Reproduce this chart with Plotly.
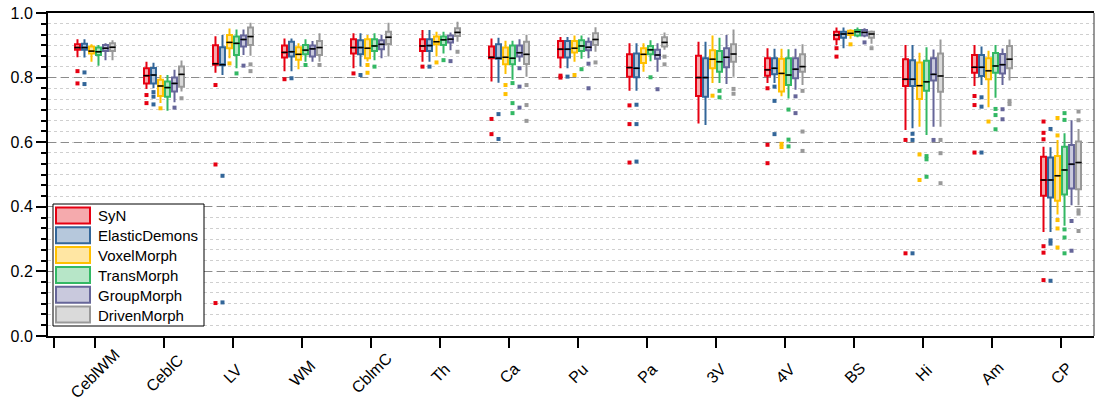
import plotly.graph_objects as go

CATEGORIES = ["CeblWM", "CeblC", "LV", "WM", "CblmC", "Th", "Ca", "Pu", "Pa",
              "3V", "4V", "BS", "Hi", "Am", "CP"]
METHODS = ["SyN", "ElasticDemons", "VoxelMorph", "TransMorph", "GroupMorph", "DrivenMorph"]
Y_TICKS = [0.0, 0.2, 0.4, 0.6, 0.8, 1.0]
Y_TICK_TEXT = ["0.0", "0.2", "0.4", "0.6", "0.8", "1.0"]

# ---- SyN ----
SYN_LOW = [.863, .765, .815, .820, .829, .849, .788, .829, .759, .658, .783, .901, .638, .774, .322]
SYN_Q1 = [.886, .782, .840, .862, .875, .882, .860, .862, .803, .743, .806, .919, .774, .815, .434]
SYN_MED = [.893, .806, .843, .878, .893, .898, .863, .888, .831, .800, .824, .932, .795, .832, .483]
SYN_Q3 = [.903, .829, .900, .899, .919, .919, .896, .913, .872, .868, .860, .942, .857, .870, .555]
SYN_HIGH = [.919, .849, .928, .921, .937, .947, .921, .926, .906, .911, .891, .955, .901, .901, .586]
SYN_OUT = [[.820, .782], [.746, .721], [.777, .531, .102], [.795], [.813], [.834],
           [.672, .625], [.806, .800], [.714, .656, .537], [], [.767, .592, .535],
           [.891, .865], [.607, .256], [.743, .715, .568], [.664, .629, .609, .278, .258, .173]]

# ---- ElasticDemons ----
ED_LOW = [.862, .767, .808, .820, .834, .849, .784, .829, .759, .653, .783, .891, .643, .777, .322]
ED_Q1 = [.886, .782, .838, .865, .872, .882, .858, .862, .801, .741, .810, .923, .774, .805, .429]
ED_MED = [.893, .808, .840, .880, .893, .899, .860, .888, .829, .800, .829, .935, .795, .832, .483]
ED_Q3 = [.905, .830, .894, .911, .916, .919, .903, .913, .875, .860, .860, .942, .854, .870, .553]
ED_HIGH = [.919, .846, .932, .921, .937, .947, .923, .926, .906, .911, .889, .955, .901, .896, .584]
ED_OUT = [[.816, .780], [.755, .741, .717], [.496, .104], [.798], [.808], [.834],
          [.687, .610], [.803], [.716, .656, .540], [], [.772, .728, .625],
          [], [.626, .607, .256], [.739, .710, .568], [.641, .296, .286, .171]]

# ---- VoxelMorph ----
VM_LOW = [.849, .721, .860, .826, .850, .865, .811, .849, .818, .783, .742, .920, .648, .708, .376]
VM_Q1 = [.875, .743, .891, .855, .860, .903, .841, .878, .845, .829, .757, .932, .734, .795, .419]
VM_MED = [.882, .774, .909, .872, .891, .911, .863, .891, .872, .857, .813, .937, .775, .821, .496]
VM_Q3 = [.896, .793, .932, .894, .919, .927, .893, .913, .891, .885, .858, .945, .847, .860, .557]
VM_HIGH = [.903, .808, .952, .906, .932, .942, .914, .930, .906, .930, .889, .950, .877, .883, .607]
VM_OUT = [[], [.705], [.844], [], [.839, .815], [.847], [.777, .749], [.808], [],
          [.744], [.595, .585], [.903], [.562, .483], [.664], [.675, .621, .359, .333, .274]]

# ---- TransMorph ----
TM_LOW = [.837, .697, .829, .849, .854, .875, .793, .858, .851, .783, .735, .925, .622, .738, .341]
TM_Q1 = [.870, .741, .870, .872, .882, .901, .841, .882, .872, .818, .777, .930, .759, .815, .438]
TM_MED = [.880, .769, .906, .885, .898, .917, .860, .898, .886, .849, .808, .942, .787, .836, .514]
TM_Q3 = [.893, .788, .927, .901, .919, .927, .899, .916, .898, .882, .860, .947, .852, .876, .586]
TM_HIGH = [.901, .808, .949, .919, .937, .942, .914, .930, .916, .923, .888, .955, .894, .901, .628]
TM_OUT = [[], [], [.813], [.839], [.834], [.854], [.783, .721, .690], [.826], [.801],
          [.759, .739], [.701, .608, .587], [], [.557, .547, .493], [.703, .684, .640],
          [.690, .669, .330, .305, .256]]

# ---- GroupMorph ----
GM_LOW = [.854, .724, .870, .849, .860, .885, .849, .860, .818, .780, .762, .925, .648, .777, .405]
GM_Q1 = [.882, .757, .896, .865, .888, .909, .865, .885, .858, .832, .798, .930, .791, .813, .457]
GM_MED = [.891, .782, .918, .889, .903, .919, .877, .894, .870, .863, .826, .940, .810, .840, .532]
GM_Q3 = [.901, .800, .930, .899, .916, .930, .899, .911, .886, .891, .860, .947, .860, .873, .591]
GM_HIGH = [.906, .824, .949, .913, .933, .940, .919, .924, .906, .932, .889, .953, .887, .890, .668]
GM_OUT = [[], [.707], [.837], [], [], [.851], [.829, .772, .707], [.843, .767], [.764],
          [], [.742, .690], [.909], [.607], [.702, .671], [.356, .264]]

# ---- DrivenMorph ----
DM_LOW = [.854, .757, .868, .849, .865, .911, .803, .880, .886, .803, .777, .905, .648, .791, .405]
DM_Q1 = [.882, .772, .901, .870, .904, .929, .842, .901, .896, .849, .818, .923, .756, .829, .454]
DM_MED = [.894, .810, .927, .893, .925, .940, .872, .918, .909, .873, .834, .935, .805, .857, .537]
DM_Q3 = [.906, .834, .955, .913, .942, .953, .911, .937, .925, .903, .872, .942, .875, .898, .602]
DM_HIGH = [.916, .853, .970, .937, .970, .973, .933, .956, .940, .949, .903, .946, .918, .918, .641]
DM_OUT = [[], [.736], [.841, .820], [.839], [], [.880], [.777, .715, .666], [.847],
          [.865, .841], [.765, .750], [.759, .633, .573], [.891], [.607, .566, .473],
          [.728, .718], [.695, .668, .389, .379, .325]]

LINE_COLORS = ["#E60012", "#336699", "#FFC000", "#33B864", "#666699", "#999999"]
FILL_COLORS = ["#F5AAAD", "#B6C8DC", "#FFE6A3", "#B7E6C8", "#C9C9DD", "#DADADA"]

STATS = [
    (SYN_LOW, SYN_Q1, SYN_MED, SYN_Q3, SYN_HIGH, SYN_OUT),
    (ED_LOW, ED_Q1, ED_MED, ED_Q3, ED_HIGH, ED_OUT),
    (VM_LOW, VM_Q1, VM_MED, VM_Q3, VM_HIGH, VM_OUT),
    (TM_LOW, TM_Q1, TM_MED, TM_Q3, TM_HIGH, TM_OUT),
    (GM_LOW, GM_Q1, GM_MED, GM_Q3, GM_HIGH, GM_OUT),
    (DM_LOW, DM_Q1, DM_MED, DM_Q3, DM_HIGH, DM_OUT),
]

# ---- layout geometry ----
W, H = 1096, 403
ML, MR, MT, MB = 48, 2, 13, 67
PW, PH = W - ML - MR, H - MT - MB
STEP = 0.1015        # offset between neighbouring boxes (category units)
BOX_W = 0.072
FONT = "Arial, Liberation Sans, sans-serif"

def px_x(p):
    return (p - ML) / PW

def px_y(p):
    return (H - MB - p) / PH

fig = go.Figure()
pos = list(range(1, len(CATEGORIES) + 1))

for i, name in enumerate(METHODS):
    low, q1, med, q3, high, outs = STATS[i]
    off = (i - 2.5) * STEP
    xs = [p + off for p in pos]
    fig.add_trace(go.Box(
        x=xs, q1=q1, median=med, q3=q3, lowerfence=low, upperfence=high,
        width=BOX_W, whiskerwidth=0, name=name, showlegend=False,
        line=dict(color=LINE_COLORS[i], width=2), fillcolor=FILL_COLORS[i],
    ))
    # black median lines
    mx, my = [], []
    for x, m in zip(xs, med):
        mx += [x - BOX_W * 0.62, x + BOX_W * 0.62, None]
        my += [m, m, None]
    fig.add_trace(go.Scatter(x=mx, y=my, mode="lines", showlegend=False,
                             line=dict(color="black", width=1.5), hoverinfo="skip"))
    # outliers
    ox, oy = [], []
    for x, o in zip(xs, outs):
        for v in o:
            ox.append(x)
            oy.append(v)
    fig.add_trace(go.Scatter(x=ox, y=oy, mode="markers", showlegend=False,
                             marker=dict(symbol="square", size=4, color=LINE_COLORS[i],
                                         line=dict(width=0))))

shapes = []
annotations = []

# right frame line
shapes.append(dict(type="line", xref="paper", yref="paper", x0=1, x1=1, y0=0, y1=1,
                   line=dict(color="#333333", width=1)))

# category labels (rotated, centred on tick)
for p, c in zip(pos, CATEGORIES):
    annotations.append(dict(x=p, y=px_y(373), xref="x", yref="paper", text=c,
                            showarrow=False, textangle=-45, xanchor="center", yanchor="middle",
                            font=dict(family=FONT, size=16, color="black")))

# manual legend
shapes.append(dict(type="rect", xref="paper", yref="paper",
                   x0=px_x(53), x1=px_x(204), y0=px_y(326), y1=px_y(204),
                   line=dict(color="black", width=1), fillcolor="white", layer="above"))
for i, name in enumerate(METHODS):
    top = 207.5 + i * 19.8
    shapes.append(dict(type="rect", xref="paper", yref="paper",
                       x0=px_x(56), x1=px_x(90), y0=px_y(top + 16), y1=px_y(top),
                       line=dict(color=LINE_COLORS[i], width=2), fillcolor=FILL_COLORS[i],
                       layer="above"))
    annotations.append(dict(x=px_x(96), y=px_y(top + 8.5), xref="paper", yref="paper",
                            text=name, showarrow=False, xanchor="left", yanchor="middle",
                            font=dict(family=FONT, size=15, color="black")))

fig.update_layout(
    width=W, height=H,
    margin=dict(l=ML, r=MR, t=MT, b=MB),
    plot_bgcolor="white", paper_bgcolor="white",
    showlegend=False,
    shapes=shapes, annotations=annotations,
    font=dict(family=FONT, size=16, color="black"),
    xaxis=dict(range=[0.319, 15.478], tickvals=[0.406] + pos, ticktext=[""] * (len(pos) + 1),
               ticks="outside", ticklen=10, tickwidth=2, tickcolor="black",
               showline=True, linecolor="black", linewidth=2, mirror=True,
               showgrid=False, zeroline=False),
    yaxis=dict(range=[0, 1], tickvals=Y_TICKS, ticktext=Y_TICK_TEXT,
               ticks="outside", ticklen=10, tickwidth=1.5, tickcolor="black",
               showline=True, linecolor="black", linewidth=2,
               showgrid=True, gridcolor="#8c8c8c", griddash="8px,5px", gridwidth=1,
               zeroline=False, tickfont=dict(family=FONT, size=16),
               minor=dict(dtick=1 / 30, tick0=0, ticks="outside", ticklen=5,
                          tickwidth=1.5, tickcolor="black", showgrid=True,
                          gridcolor="#cfcfcf", griddash="3px,3px", gridwidth=1)),
)

fig.write_html("out.html", config={"displayModeBar": False},
               post_script="document.body.style.margin='0';")
